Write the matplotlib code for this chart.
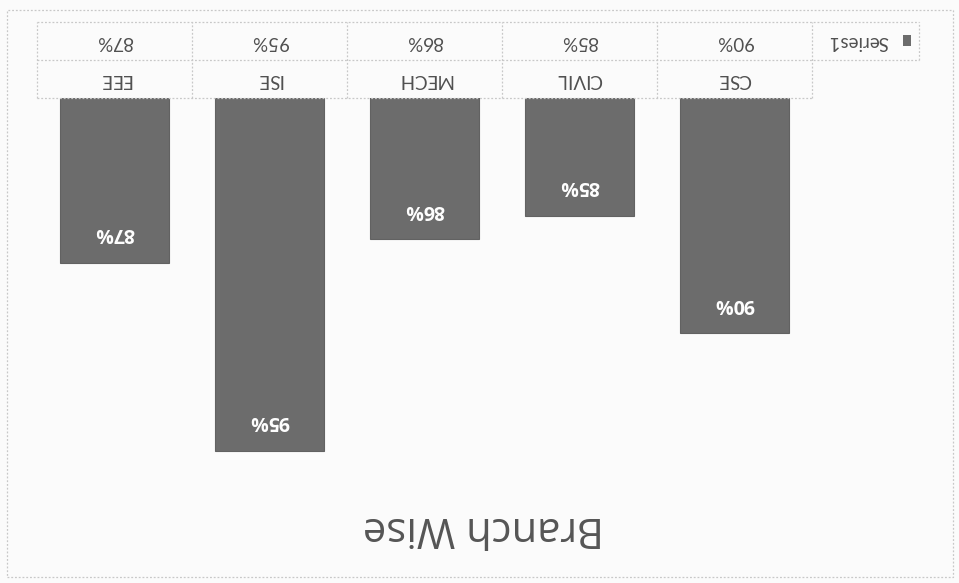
import matplotlib
matplotlib.use("Agg")
import matplotlib.pyplot as plt
import matplotlib.transforms as mtransforms
from matplotlib.patches import Rectangle

categories = ["CSE", "CIVIL", "MECH", "ISE", "EEE"]
values = [90, 85, 86, 95, 87]
value_labels = ["90%", "85%", "86%", "95%", "87%"]
series_name = "Series1"
title = "Branch Wise"

W, H = 959, 583
fig = plt.figure(figsize=(W / 100, H / 100), dpi=100)
fig.patch.set_facecolor("#fbfbfb")

# axes placement (the whole chart is rotated by 180 degrees)
ax_left, ax_right = 37 / W, 812 / W
ax_top_px, ax_bot_px = 98, 474
ax = fig.add_axes([ax_left, 1 - ax_bot_px / H, ax_right - ax_left, (ax_bot_px - ax_top_px) / H])
ax.set_facecolor("none")

x = list(range(len(categories)))
bar_color = "#6c6c6c"
ax.bar(x, values, width=0.70, color=bar_color, edgecolor="#626262", linewidth=0.8)
ax.set_xlim(len(categories) - 0.5, -0.5)
ax.set_ylim(96, 80)
for s in ax.spines.values():
    s.set_visible(False)
ax.set_xticks([])
ax.set_yticks([])

table_font = ["Lato", "DejaVu Sans"]
label_font = ["Open Sans", "DejaVu Sans"]

# data labels inside bar ends
for xi, v, lab in zip(x, values, value_labels):
    ax.annotate(lab, (xi, v), xytext=(0, 21), textcoords="offset points",
                ha="center", va="center", rotation=180, color="white",
                fontsize=14, fontweight="bold", family=label_font)

# data table above the axes (appears at the top because of rotation)
trans = mtransforms.blended_transform_factory(ax.transData, ax.transAxes)
row_h = 38 / (ax_bot_px - ax_top_px)
grid_kw = dict(color="#c8c8c8", linewidth=0.9, linestyle=(0, (1.5, 1.5)), transform=trans, clip_on=False)
n = len(categories)
# horizontal lines
ax.plot([n - 0.5, -0.5], [1, 1], **grid_kw)
ax.plot([n - 0.5, -0.5 - 0.69], [1 + row_h, 1 + row_h], **grid_kw)
ax.plot([n - 0.5, -0.5 - 0.69], [1 + 2 * row_h, 1 + 2 * row_h], **grid_kw)
# vertical lines
for b in range(n + 1):
    ax.plot([b - 0.5, b - 0.5], [1, 1 + 2 * row_h], **grid_kw)
ax.plot([-0.5 - 0.69, -0.5 - 0.69], [1 + row_h, 1 + 2 * row_h], **grid_kw)

for xi, c, lab in zip(x, categories, value_labels):
    ax.text(xi, 1 + row_h * 0.5, c, transform=trans, ha="center", va="center",
            rotation=180, fontsize=13.5, color="#505050", family=table_font)
    ax.text(xi, 1 + row_h * 1.5, lab, transform=trans, ha="center", va="center",
            rotation=180, fontsize=13.5, color="#505050", family=table_font)

# legend key inside the table
ax.text(-0.5 - 0.30, 1 + row_h * 1.5, series_name, transform=trans, ha="center", va="center",
        rotation=180, fontsize=13.5, color="#505050", family=table_font)
ax.add_patch(Rectangle((-0.5 - 0.64, 1 + row_h * 1.37), 0.05, row_h * 0.28, transform=trans,
                       facecolor=bar_color, edgecolor="none", clip_on=False))

# title at the bottom, upside down
fig.text(484 / W, 1 - 528 / H, title, ha="center", va="center", rotation=180,
         fontsize=30, color="#555555", family=["Open Sans", "DejaVu Sans"])

# outer chart border
fig.patches.append(Rectangle((7 / W, 1 - 577 / H), (953 - 7) / W, (577 - 10) / H,
                             transform=fig.transFigure, facecolor="none",
                             edgecolor="#c8c8c8", linewidth=0.9, linestyle=(0, (1.5, 1.5))))

fig.savefig("out.png", dpi=100, facecolor=fig.get_facecolor())
